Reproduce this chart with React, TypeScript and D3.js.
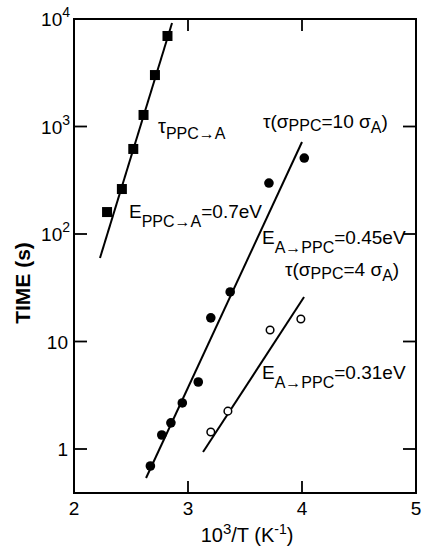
import React from "react";
import * as d3 from "d3";

const xTicks = [2, 3, 4, 5];
const yTickExp = [0, 1, 2, 3, 4];

// tau PPC->A (filled squares)
const squareX = [2.29, 2.42, 2.52, 2.61, 2.71, 2.82];
const squareY = [160, 262, 618, 1280, 3010, 6950];
// tau (sigma_PPC = 10 sigma_A) (filled circles)
const filledX = [2.67, 2.77, 2.85, 2.95, 3.09, 3.2, 3.37, 3.71, 4.02];
const filledY = [0.695, 1.35, 1.75, 2.68, 4.2, 16.6, 28.9, 298, 509];
// tau (sigma_PPC = 4 sigma_A) (open circles)
const openX = [3.2, 3.35, 3.72, 3.99];
const openY = [1.44, 2.25, 12.8, 16.2];
// fitted lines (endpoints)
const fitAX = [2.228, 2.86];
const fitAY = [59.8, 9180];
const fitBX = [2.632, 4.0];
const fitBY = [0.537, 718];
const fitCX = [3.132, 4.018];
const fitCY = [0.937, 25.9];

const W = 422;
const H = 550;
const L = 74, R = 416, T = 19, B = 493;
const FONT = "'Liberation Sans', Arial, sans-serif";

export default function App() {
  const x = d3.scaleLinear().domain([2, 5]).range([L, R]);
  const yMin = Math.pow(10, -(B - 449) / 107.5);
  const y = d3.scaleLog().domain([yMin, 1e4]).range([B, T]);
  const line = d3.line<[number, number]>().x((d) => x(d[0])).y((d) => y(d[1]));
  const pts = (xs: number[], ys: number[]) => xs.map((v, i) => [v, ys[i]] as [number, number]);

  const sub = (s: string, dy = 7) => (
    <tspan dy={dy} fontSize={16}>{s}</tspan>
  );

  return (
    <svg width={W} height={H} style={{ position: "absolute", left: 0, top: 0, background: "#fff" }} fontFamily={FONT}>
      <rect x={0} y={0} width={W} height={H} fill="#fff" />
      {/* frame */}
      <rect x={L} y={T} width={R - L} height={B - T} fill="none" stroke="#000" strokeWidth={2} />
      {/* x ticks */}
      {xTicks.map((t) => (
        <g key={"x" + t}>
          {t > 2 && t < 5 && (
            <>
              <line x1={x(t)} x2={x(t)} y1={B} y2={B - 12} stroke="#000" strokeWidth={1.8} />
              <line x1={x(t)} x2={x(t)} y1={T} y2={T + 12} stroke="#000" strokeWidth={1.8} />
            </>
          )}
          <text x={x(t)} y={515} fontSize={19} textAnchor="middle">{t}</text>
        </g>
      ))}
      {/* y ticks */}
      {yTickExp.map((e) => {
        const v = Math.pow(10, e);
        const yy = y(v);
        return (
          <g key={"y" + e}>
            {e < 4 && (
              <>
                <line x1={L} x2={L + 13} y1={yy} y2={yy} stroke="#000" strokeWidth={1.8} />
                <line x1={R} x2={R - 13} y1={yy} y2={yy} stroke="#000" strokeWidth={1.8} />
              </>
            )}
            {e === 0 && <text x={68} y={yy + 7} fontSize={19} textAnchor="end">1</text>}
            {e === 1 && <text x={68} y={yy + 7} fontSize={19} textAnchor="end">10</text>}
            {e >= 2 && (
              <text x={70} y={yy + 7} fontSize={19} textAnchor="end">
                10<tspan dy={-9} fontSize={14}>{e}</tspan>
              </text>
            )}
          </g>
        );
      })}
      {/* axis titles */}
      <text x={247} y={542} fontSize={20} textAnchor="middle">
        10<tspan dy={-8} fontSize={15}>3</tspan>
        <tspan dy={8}>/T (K</tspan>
        <tspan dy={-8} fontSize={14}>-1</tspan>
        <tspan dy={8}>)</tspan>
      </text>
      <text transform={`translate(30,${283}) rotate(-90)`} fontSize={21} textAnchor="middle" fontWeight="bold">
        TIME (s)
      </text>
      {/* fits */}
      <path d={line(pts(fitAX, fitAY)) || ""} stroke="#000" strokeWidth={2} fill="none" />
      <path d={line(pts(fitBX, fitBY)) || ""} stroke="#000" strokeWidth={2} fill="none" />
      <path d={line(pts(fitCX, fitCY)) || ""} stroke="#000" strokeWidth={2} fill="none" />
      {/* markers */}
      {squareX.map((v, i) => (
        <rect key={"s" + i} x={x(v) - 5} y={y(squareY[i]) - 5} width={10} height={10} fill="#000" />
      ))}
      {filledX.map((v, i) => (
        <circle key={"f" + i} cx={x(v)} cy={y(filledY[i])} r={4.8} fill="#000" />
      ))}
      {openX.map((v, i) => (
        <circle key={"o" + i} cx={x(v)} cy={y(openY[i])} r={3.8} fill="#fff" stroke="#000" strokeWidth={1.5} />
      ))}
      {/* annotations */}
      <text x={158} y={133} fontSize={20}>
        τ{sub("PPC→A", 6)}
      </text>
      <text x={129} y={218} fontSize={19}>
        E{sub("PPC→A", 9)}<tspan dy={-9}>=0.7eV</tspan>
      </text>
      <text x={263} y={128} fontSize={19}>
        τ(σ{sub("PPC", 3)}<tspan dy={-3}>=10 σ</tspan>{sub("A", 5)}<tspan dy={-5}>)</tspan>
      </text>
      <text x={262} y={244} fontSize={19}>
        E{sub("A→PPC", 9)}<tspan dy={-9}>=0.45eV</tspan>
      </text>
      <text x={285} y={276} fontSize={19}>
        τ(σ{sub("PPC", 3)}<tspan dy={-3}>=4 σ</tspan>{sub("A", 5)}<tspan dy={-5}>)</tspan>
      </text>
      <text x={262} y={379} fontSize={19}>
        E{sub("A→PPC", 9)}<tspan dy={-9}>=0.31eV</tspan>
      </text>
    </svg>
  );
}
